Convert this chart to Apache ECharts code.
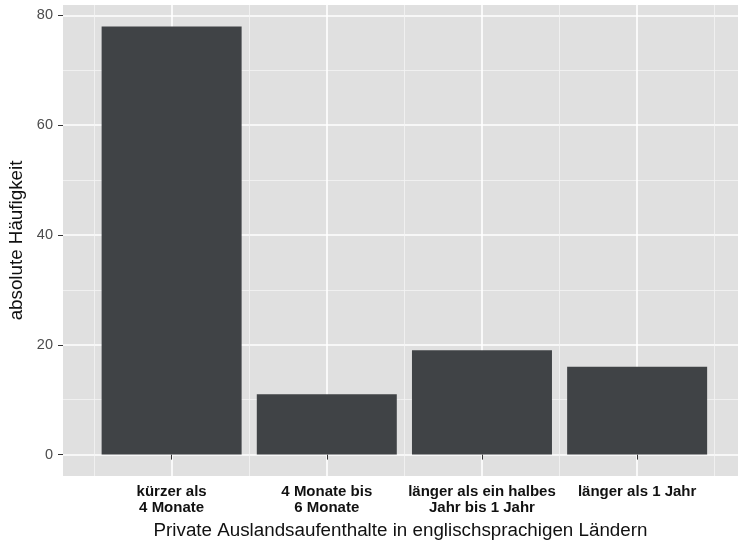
<!DOCTYPE html>
<html>
<head>
<meta charset="utf-8">
<script src="https://cdn.jsdelivr.net/npm/echarts@6/dist/echarts.min.js"></script>
<style>html,body{margin:0;padding:0;background:#fff}#c{width:738px;height:543px}</style>
</head>
<body>
<div id="c"></div>
<script>
const categories = ['kürzer als\n4 Monate', '4 Monate bis\n6 Monate', 'länger als ein halbes\nJahr bis 1 Jahr', 'länger als 1 Jahr'];
const counts = [78, 11, 19, 16];
const yTicks = [0, 20, 40, 60, 80];
const yMinorTicks = [10, 30, 50, 70];
const xTicks = [1, 2, 3, 4];
const xMinorTicks = [0.5, 1.5, 2.5, 3.5, 4.5];
const xTitle = 'Private Auslandsaufenthalte in englischsprachigen Ländern';
const yTitle = 'absolute Häufigkeit';

const FONT = '"Liberation Sans", Arial, Helvetica, sans-serif';
const chart = echarts.init(document.getElementById('c'), null, {renderer: 'canvas'});
const xMin = 0.3, xMax = 4.65, yMin = -3.9, yMax = 81.9;

chart.setOption({
  animation: false,
  backgroundColor: '#ffffff',
  grid: {left: 63, right: 0, top: 5, bottom: 67, show: true, backgroundColor: '#e0e0e0', borderWidth: 0,
         containLabel: false, outerBoundsMode: 'none'},
  xAxis: [
    {
      type: 'value', min: xMin, max: xMax,
      axisLine: {show: false},
      axisTick: {show: true, length: 5, customValues: xTicks, lineStyle: {color: '#333333', width: 1}},
      axisLabel: {
        customValues: xTicks,
        margin: 8, color: '#111111', fontWeight: 'bold', fontSize: 15, fontFamily: FONT, lineHeight: 16,
        formatter: v => categories[Math.round(v) - 1] || ''
      },
      splitLine: {show: true, lineStyle: {color: '#ffffff', width: 1.6}},
      name: xTitle, nameLocation: 'middle', nameGap: 44,
      nameTextStyle: {fontSize: 18.8, color: '#111111', fontFamily: FONT}
    },
    {
      type: 'value', min: xMin, max: xMax, position: 'bottom',
      axisLine: {show: false}, axisTick: {show: false, customValues: xMinorTicks}, axisLabel: {show: false},
      splitLine: {show: true, lineStyle: {color: '#f4f4f4', width: 0.8}}
    }
  ],
  yAxis: [
    {
      type: 'value', min: yMin, max: yMax,
      axisLine: {show: false},
      axisTick: {show: true, length: 5, customValues: yTicks, lineStyle: {color: '#333333', width: 1}},
      axisLabel: {customValues: yTicks, margin: 10, color: '#4d4d4d', fontSize: 14.5, fontFamily: FONT},
      splitLine: {show: true, lineStyle: {color: '#ffffff', width: 1.6}},
      name: yTitle, nameLocation: 'middle', nameGap: 36, nameRotate: 90,
      nameTextStyle: {fontSize: 18.8, color: '#111111', fontFamily: FONT}
    },
    {
      type: 'value', min: yMin, max: yMax,
      axisLine: {show: false}, axisTick: {show: false, customValues: yMinorTicks}, axisLabel: {show: false},
      splitLine: {show: true, lineStyle: {color: '#f4f4f4', width: 0.8}}
    }
  ],
  series: [{
    type: 'bar', xAxisIndex: 0, yAxisIndex: 0,
    data: counts.map((v, i) => [xTicks[i], v]),
    barWidth: 140,
    itemStyle: {color: '#404346'}
  }]
});
</script>
</body>
</html>
